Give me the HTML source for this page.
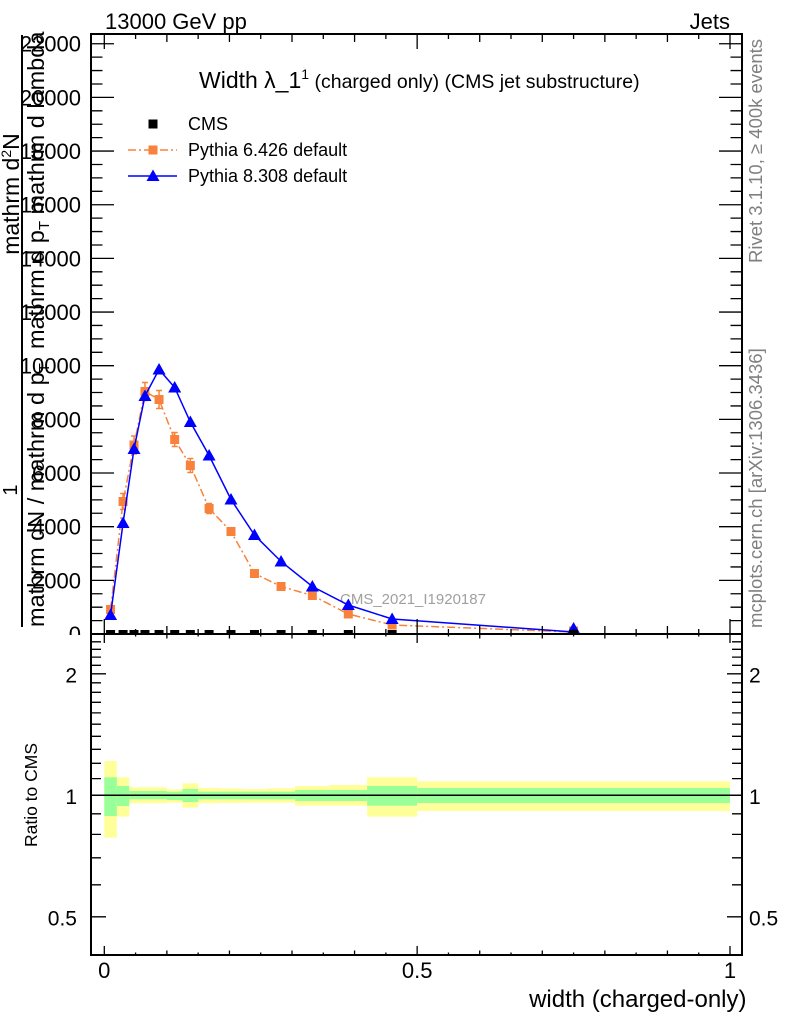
<!DOCTYPE html>
<html><head><meta charset="utf-8"><style>
html,body{margin:0;padding:0;background:#fff;}
svg{display:block;font-family:"Liberation Sans",Arial,sans-serif;}
</style></head><body>
<svg width="786" height="1024" viewBox="0 0 786 1024" xmlns="http://www.w3.org/2000/svg">
<defs>
<path id="tri" d="M0,-6.5 L6.5,5 L-6.5,5Z" fill="#0000ff"/>
<rect id="osq" x="-4.5" y="-4.5" width="9" height="9" fill="#f8823c"/>
</defs>
<rect width="786" height="1024" fill="#fff"/>

<!-- top labels -->
<text x="105" y="29" font-size="22" fill="#000">13000 GeV pp</text>
<text x="730" y="29" font-size="22" fill="#000" text-anchor="end">Jets</text>

<!-- main y tick labels -->
<g font-size="22" text-anchor="end" fill="#000">
<text x="81" y="642">0</text>
<text x="81" y="588.3">2000</text>
<text x="81" y="534.7">4000</text>
<text x="81" y="481">6000</text>
<text x="81" y="427.4">8000</text>
<text x="81" y="373.7">10000</text>
<text x="81" y="320">12000</text>
<text x="81" y="266.4">14000</text>
<text x="81" y="212.7">16000</text>
<text x="81" y="159.1">18000</text>
<text x="81" y="105.4">20000</text>
<text x="81" y="51.7">22000</text>
</g>

<!-- y axis label (fraction) -->
<line x1="22" y1="35" x2="22" y2="627" stroke="#000" stroke-width="2"/>
<text transform="translate(17,490) rotate(-90)" font-size="20" text-anchor="middle">1</text>
<text transform="translate(19,194) rotate(-90)" font-size="23" text-anchor="middle">mathrm d<tspan font-size="14" dy="-8">2</tspan><tspan dy="8">N</tspan></text>
<text transform="translate(44,349) rotate(-90)" font-size="23.5">mathrm d p<tspan font-size="15" dy="5">T</tspan><tspan dy="-5"> mathrm d lambda</tspan></text>
<text transform="translate(44,627) rotate(-90)" font-size="23.5">mathrm dN / mathrm d p<tspan font-size="15" dy="5">T</tspan></text>

<!-- right side labels -->
<text transform="translate(762,263) rotate(-90)" font-size="18.5" fill="#808080">Rivet 3.1.10, ≥ 400k events</text>
<text transform="translate(762,628) rotate(-90)" font-size="18.5" fill="#808080">mcplots.cern.ch [arXiv:1306.3436]</text>

<!-- title -->
<text x="199" y="88" font-size="23" fill="#000">Width λ_1<tspan font-size="14" dy="-9">1</tspan><tspan font-size="19.5" dy="9"> (charged only) (CMS jet substructure)</tspan></text>

<!-- legend -->
<rect x="148.5" y="119.5" width="9" height="9" fill="#000"/>
<text x="188" y="130" font-size="18">CMS</text>
<line x1="128" y1="150" x2="177" y2="150" stroke="#f8823c" stroke-width="1.5" stroke-dasharray="8,3,2,3"/>
<use href="#osq" x="153" y="150"/>
<text x="188" y="156" font-size="18">Pythia 6.426 default</text>
<line x1="128" y1="176" x2="177" y2="176" stroke="#0000ff" stroke-width="1.5"/>
<use href="#tri" x="153" y="176"/>
<text x="188" y="182" font-size="18">Pythia 8.308 default</text>

<text x="340" y="604" font-size="15" fill="#a0a0a0">CMS_2021_I1920187</text>

<!-- main panel data -->
<g>
<polyline fill="none" stroke="#f8823c" stroke-width="1.5" stroke-dasharray="8,3,2,3" points="110.56,609.5 123.07,501.5 134.02,445 144.97,391.5 159.05,399.5 174.69,439.5 190.33,465.5 209.1,508.5 231,531.5 254.47,573.5 281.06,586.5 312.35,595.5 348.32,614 392.12,625 573.58,632"/>
<g stroke="#f8823c" stroke-width="1.5">
<path d="M110.56 604.5v10M123.07 493.5v16M134.02 436v18M144.97 382.5v18M159.05 390.5v18M174.69 432.5v14M190.33 458.5v14M209.1 503.5v10M231 527.5v8"/>
<path d="M120.07 493.5h6M120.07 509.5h6M131.02 436h6M131.02 454h6M141.97 382.5h6M141.97 400.5h6M156.05 390.5h6M156.05 408.5h6M171.69 432.5h6M171.69 446.5h6M187.33 458.5h6M187.33 472.5h6M206.1 503.5h6M206.1 513.5h6"/>
</g>
<use href="#osq" x="110.56" y="609.5"/><use href="#osq" x="123.07" y="501.5"/><use href="#osq" x="134.02" y="445"/><use href="#osq" x="144.97" y="391.5"/><use href="#osq" x="159.05" y="399.5"/><use href="#osq" x="174.69" y="439.5"/><use href="#osq" x="190.33" y="465.5"/><use href="#osq" x="209.1" y="508.5"/><use href="#osq" x="231" y="531.5"/><use href="#osq" x="254.47" y="573.5"/><use href="#osq" x="281.06" y="586.5"/><use href="#osq" x="312.35" y="595.5"/><use href="#osq" x="348.32" y="614"/><use href="#osq" x="392.12" y="625"/><use href="#osq" x="573.58" y="631"/>

<polyline fill="none" stroke="#0000ff" stroke-width="1.5" points="110.56,615 123.07,523 134.02,449 144.97,396 159.05,369.5 174.69,387.5 190.33,422 209.1,455.5 231,499.5 254.47,535 281.06,561.5 312.35,586.5 348.32,605 392.12,619 573.58,632"/>
<use href="#tri" x="110.56" y="615"/><use href="#tri" x="123.07" y="523"/><use href="#tri" x="134.02" y="449"/><use href="#tri" x="144.97" y="396"/><use href="#tri" x="159.05" y="369.5"/><use href="#tri" x="174.69" y="387.5"/><use href="#tri" x="190.33" y="422"/><use href="#tri" x="209.1" y="455.5"/><use href="#tri" x="231" y="499.5"/><use href="#tri" x="254.47" y="535"/><use href="#tri" x="281.06" y="561.5"/><use href="#tri" x="312.35" y="586.5"/><use href="#tri" x="348.32" y="605"/><use href="#tri" x="392.12" y="619"/><use href="#tri" x="573.58" y="628.5"/>

<g fill="#000">
<rect x="106.06" y="630" width="9" height="4.5"/><rect x="118.57" y="630" width="9" height="4.5"/><rect x="129.52" y="630" width="9" height="4.5"/><rect x="140.47" y="630" width="9" height="4.5"/><rect x="154.55" y="630" width="9" height="4.5"/><rect x="170.19" y="630" width="9" height="4.5"/><rect x="185.83" y="630" width="9" height="4.5"/><rect x="204.6" y="630" width="9" height="4.5"/><rect x="226.5" y="630" width="9" height="4.5"/><rect x="249.97" y="630" width="9" height="4.5"/><rect x="276.56" y="630" width="9" height="4.5"/><rect x="307.85" y="630" width="9" height="4.5"/><rect x="343.82" y="630" width="9" height="4.5"/><rect x="387.62" y="630" width="9" height="4.5"/><rect x="569.08" y="630" width="9" height="4.5"/>
</g>
</g>

<!-- main ticks -->
<g stroke="#000" stroke-width="1.3" fill="none">
<path d="M91 580.34h23M91 526.68h23M91 473.02h23M91 419.36h23M91 365.7h23M91 312.04h23M91 258.38h23M91 204.72h23M91 151.06h23M91 97.4h23M91 43.74h23"/>
<path d="M91 620.59h11.5M91 607.17h11.5M91 593.76h11.5M91 566.93h11.5M91 553.51h11.5M91 540.1h11.5M91 513.27h11.5M91 499.85h11.5M91 486.44h11.5M91 459.61h11.5M91 446.19h11.5M91 432.78h11.5M91 405.95h11.5M91 392.53h11.5M91 379.12h11.5M91 352.29h11.5M91 338.87h11.5M91 325.46h11.5M91 298.63h11.5M91 285.21h11.5M91 271.8h11.5M91 244.97h11.5M91 231.55h11.5M91 218.14h11.5M91 191.31h11.5M91 177.89h11.5M91 164.48h11.5M91 137.65h11.5M91 124.23h11.5M91 110.82h11.5M91 83.99h11.5M91 70.57h11.5M91 57.16h11.5"/>
<path d="M742 580.34h-23M742 526.68h-23M742 473.02h-23M742 419.36h-23M742 365.7h-23M742 312.04h-23M742 258.38h-23M742 204.72h-23M742 151.06h-23M742 97.4h-23M742 43.74h-23"/>
<path d="M742 620.59h-11.5M742 607.17h-11.5M742 593.76h-11.5M742 566.93h-11.5M742 553.51h-11.5M742 540.1h-11.5M742 513.27h-11.5M742 499.85h-11.5M742 486.44h-11.5M742 459.61h-11.5M742 446.19h-11.5M742 432.78h-11.5M742 405.95h-11.5M742 392.53h-11.5M742 379.12h-11.5M742 352.29h-11.5M742 338.87h-11.5M742 325.46h-11.5M742 298.63h-11.5M742 285.21h-11.5M742 271.8h-11.5M742 244.97h-11.5M742 231.55h-11.5M742 218.14h-11.5M742 191.31h-11.5M742 177.89h-11.5M742 164.48h-11.5M742 137.65h-11.5M742 124.23h-11.5M742 110.82h-11.5M742 83.99h-11.5M742 70.57h-11.5M742 57.16h-11.5"/>
<path d="M104.3 634v-15M417.15 634v-15M730 634v-15M166.87 634v-8M229.44 634v-8M292.01 634v-8M354.58 634v-8M479.72 634v-8M542.29 634v-8M604.86 634v-8M667.43 634v-8M135.59 634v-5M198.16 634v-5M260.73 634v-5M323.3 634v-5M385.87 634v-5M448.44 634v-5M511.01 634v-5M573.58 634v-5M636.15 634v-5M698.72 634v-5"/>
<path d="M104.3 34v15M417.15 34v15M730 34v15M166.87 34v8M229.44 34v8M292.01 34v8M354.58 34v8M479.72 34v8M542.29 34v8M604.86 34v8M667.43 34v8M135.59 34v5M198.16 34v5M260.73 34v5M323.3 34v5M385.87 34v5M448.44 34v5M511.01 34v5M573.58 34v5M636.15 34v5M698.72 34v5"/>
</g>
<rect x="91" y="34" width="651" height="600" fill="none" stroke="#000" stroke-width="2"/>

<!-- ratio panel -->
<rect x="0" y="635" width="786" height="389" fill="#fff"/>
<g fill="#ffff99">
<rect x="104.3" y="761" width="12.5" height="76.7"/>
<rect x="116.8" y="777.3" width="12.5" height="39.4"/>
<rect x="129.3" y="787.3" width="37.6" height="16"/>
<rect x="166.9" y="789.3" width="15.6" height="13.4"/>
<rect x="182.5" y="783.3" width="15.7" height="24.4"/>
<rect x="198.2" y="788" width="21.9" height="15.3"/>
<rect x="220.1" y="788.5" width="21.9" height="14.5"/>
<rect x="242" y="789" width="25" height="13.7"/>
<rect x="267" y="788.3" width="28.1" height="14.4"/>
<rect x="295.1" y="786" width="34.5" height="19.7"/>
<rect x="329.6" y="785" width="37.5" height="20.7"/>
<rect x="367.1" y="777.3" width="50.1" height="39.4"/>
<rect x="417.2" y="781.3" width="312.8" height="29.7"/>
</g>
<g fill="#99ff99">
<rect x="104.3" y="777.3" width="12.5" height="38.7"/>
<rect x="116.8" y="786" width="12.5" height="20"/>
<rect x="129.3" y="791" width="37.6" height="8.3"/>
<rect x="166.9" y="791.7" width="15.6" height="8.3"/>
<rect x="182.5" y="789" width="15.7" height="13"/>
<rect x="198.2" y="791.7" width="96.9" height="7.6"/>
<rect x="295.1" y="790" width="72" height="11"/>
<rect x="367.1" y="786" width="50.1" height="19.7"/>
<rect x="417.2" y="788" width="312.8" height="15"/>
</g>
<line x1="91" y1="795.3" x2="742" y2="795.3" stroke="#000" stroke-width="1.5"/>

<g stroke="#000" stroke-width="1.3" fill="none">
<path d="M91 916.8h15M91 795.3h15M91 673.8h15M742 916.8h-15M742 795.3h-15M742 673.8h-15"/>
<path d="M91 884.8h10M91 857.8h10M91 834.4h10M91 813.8h10M91 778.6h10M91 763.3h10M91 749.3h10M91 736.3h10M91 724.2h10M91 712.9h10M91 702.3h10M91 692.3h10M91 682.8h10M91 665.3h10M91 657.1h10M91 649.3h10M91 641.8h10"/>
<path d="M742 884.8h-10M742 857.8h-10M742 834.4h-10M742 813.8h-10M742 778.6h-10M742 763.3h-10M742 749.3h-10M742 736.3h-10M742 724.2h-10M742 712.9h-10M742 702.3h-10M742 692.3h-10M742 682.8h-10M742 665.3h-10M742 657.1h-10M742 649.3h-10M742 641.8h-10"/>
<path d="M104.3 955v-9M417.15 955v-9M730 955v-9M166.87 955v-4.5M229.44 955v-4.5M292.01 955v-4.5M354.58 955v-4.5M479.72 955v-4.5M542.29 955v-4.5M604.86 955v-4.5M667.43 955v-4.5M135.59 955v-2.5M198.16 955v-2.5M260.73 955v-2.5M323.3 955v-2.5M385.87 955v-2.5M448.44 955v-2.5M511.01 955v-2.5M573.58 955v-2.5M636.15 955v-2.5M698.72 955v-2.5"/>
<path d="M104.3 634v9M417.15 634v9M730 634v9M166.87 634v4.5M229.44 634v4.5M292.01 634v4.5M354.58 634v4.5M479.72 634v4.5M542.29 634v4.5M604.86 634v4.5M667.43 634v4.5M135.59 634v2.5M198.16 634v2.5M260.73 634v2.5M323.3 634v2.5M385.87 634v2.5M448.44 634v2.5M511.01 634v2.5M573.58 634v2.5M636.15 634v2.5M698.72 634v2.5"/>
</g>
<rect x="91" y="634" width="651" height="321" fill="none" stroke="#000" stroke-width="2"/>

<g font-size="21" fill="#000">
<text x="77" y="682.5" text-anchor="end">2</text>
<text x="77" y="804" text-anchor="end">1</text>
<text x="77" y="925.5" text-anchor="end">0.5</text>
<text x="749" y="682.5">2</text>
<text x="749" y="804">1</text>
<text x="749" y="925.5">0.5</text>
</g>
<text transform="translate(37,795) rotate(-90)" font-size="17.5" text-anchor="middle">Ratio to CMS</text>

<g font-size="22" text-anchor="middle" fill="#000">
<text x="104.3" y="978">0</text>
<text x="417.2" y="978">0.5</text>
<text x="730" y="978">1</text>
</g>
<text x="746.5" y="1007" font-size="24" text-anchor="end">width (charged-only)</text>
</svg>
</body></html>
